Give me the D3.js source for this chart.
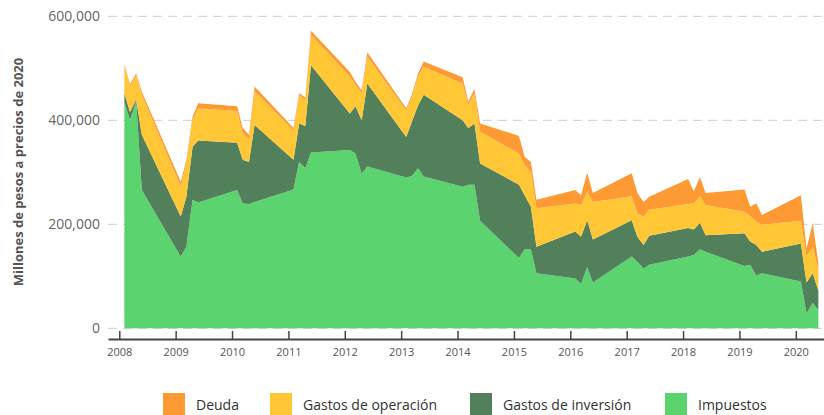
<!DOCTYPE html>
<html>
<head>
<meta charset="utf-8">
<script src="https://cdn.jsdelivr.net/npm/d3@7/dist/d3.min.js"></script>
<style>
	body { margin: 0; background: #fff; }
	text { font-family: "Open Sans", sans-serif; }
</style>
</head>
<body>
<div class="container"></div>
<script>
// fechas como año decimal (cuatro registros por año)
var fechas = [
	2008.09, 2008.19, 2008.30, 2008.40,
	2009.09, 2009.19, 2009.30, 2009.40,
	2010.09, 2010.19, 2010.30, 2010.40,
	2011.09, 2011.19, 2011.30, 2011.40,
	2012.09, 2012.19, 2012.30, 2012.40,
	2013.09, 2013.19, 2013.30, 2013.40,
	2014.09, 2014.19, 2014.30, 2014.40,
	2015.09, 2015.19, 2015.30, 2015.40,
	2016.09, 2016.19, 2016.30, 2016.40,
	2017.09, 2017.19, 2017.30, 2017.40,
	2018.09, 2018.19, 2018.30, 2018.40,
	2019.09, 2019.19, 2019.30, 2019.40,
	2020.09, 2020.19, 2020.30, 2020.40
];

// millones de pesos (en miles)
var impuestos = [
	435, 400, 436, 266,
	138, 157, 247, 242,
	266, 240, 239, 243,
	267, 320, 308, 338,
	343, 336, 297, 311,
	290, 293, 308, 292,
	272, 276, 276, 207,
	135, 152, 152, 106,
	96, 85, 118, 88,
	138, 128, 115, 122,
	138, 141, 152, 147,
	120, 122, 101, 106,
	90, 29, 49, 35
];
var inversion = [
	17, 16, 4, 106,
	77, 96, 102, 119,
	91, 84, 81, 148,
	57, 74, 81, 168,
	70, 91, 103, 160,
	78, 104, 121, 157,
	128, 109, 118, 110,
	141, 104, 82, 51,
	90, 91, 90, 83,
	70, 48, 45, 56,
	55, 49, 51, 32,
	63, 45, 59, 41,
	73, 59, 57, 37
];
var operacion = [
	52, 51, 46, 77,
	57, 65, 51, 62,
	61, 51, 44, 65,
	57, 54, 50, 58,
	71, 41, 52, 51,
	51, 47, 55, 54,
	71, 44, 58, 61,
	60, 58, 67, 74,
	54, 61, 55, 72,
	46, 45, 55, 50,
	46, 50, 51, 58,
	41, 49, 45, 52,
	44, 50, 51, 40
];
var deuda = [
	4, 3, 4, 6,
	10, 6, 7, 10,
	9, 10, 8, 9,
	4, 4, 5, 8,
	9, 6, 6, 9,
	4, 5, 6, 10,
	12, 7, 8, 16,
	34, 16, 19, 16,
	26, 19, 36, 17,
	44, 39, 28, 25,
	48, 23, 37, 23,
	43, 18, 35, 19,
	49, 16, 45, 13
];

var series = ["Impuestos", "Gastos de inversión", "Gastos de operación", "Deuda"];
var colores = ["#5bd36f", "#52805a", "#ffc636", "#fd9a33"];
var leyenda = ["Deuda", "Gastos de operación", "Gastos de inversión", "Impuestos"];
var yTicks = [0, 200000, 400000, 600000];
var xTicks = [2008, 2009, 2010, 2011, 2012, 2013, 2014, 2015, 2016, 2017, 2018, 2019, 2020];

const WIDTH = 824;
const HEIGHT = 415;

var filas = fechas.map(function(f, i){
	return {
		fecha: f,
		"Impuestos": impuestos[i] * 1000,
		"Gastos de inversión": inversion[i] * 1000,
		"Gastos de operación": operacion[i] * 1000,
		"Deuda": deuda[i] * 1000
	};
});

var svg = d3.select(".container").append('svg')
	.attr('width', WIDTH)
	.attr('height', HEIGHT);

var xScale = d3.scaleLinear()
	.domain([2007.8, 2020.5])
	.range([108, 824]);

var yScale = d3.scaleLinear()
	.domain([0, 600000])
	.range([328.3, 16.3]);

// rejilla
svg.append('g')
	.selectAll('line')
	.data(yTicks)
	.join('line')
	.attr('x1', 108)
	.attr('x2', 824)
	.attr('y1', function(d){ return yScale(d); })
	.attr('y2', function(d){ return yScale(d); })
	.attr('stroke', '#cccccc')
	.attr('stroke-width', 1)
	.attr('stroke-dasharray', '9,6');

var yAxis = d3.axisLeft(yScale)
	.tickValues(yTicks)
	.tickSize(0)
	.tickPadding(0)
	.tickFormat(d3.format(','));

var gy = svg.append('g')
	.attr('transform', 'translate(100,0)')
	.call(yAxis);
gy.select('.domain').remove();
gy.selectAll('text')
	.attr('fill', '#666')
	.style('font-size', '14px');

var stack = d3.stack().keys(series);
var capas = stack(filas);

var area = d3.area()
	.x(function(d){ return xScale(d.data.fecha); })
	.y0(function(d){ return yScale(d[0]); })
	.y1(function(d){ return yScale(d[1]); });

svg.append('g')
	.selectAll('path')
	.data(capas)
	.join('path')
	.attr('d', area)
	.attr('fill', function(d, i){ return colores[i]; });

var xAxis = d3.axisBottom(xScale)
	.tickValues(xTicks)
	.tickSizeInner(-8)
	.tickSizeOuter(0)
	.tickPadding(5)
	.tickFormat(d3.format('d'));

var gx = svg.append('g')
	.attr('transform', 'translate(0,339)')
	.call(xAxis);
gx.select('.domain')
	.attr('stroke', '#444')
	.attr('stroke-width', 2);
gx.selectAll('.tick line')
	.attr('stroke', '#444')
	.attr('stroke-width', 1.5);
gx.selectAll('text')
	.attr('fill', '#555')
	.attr('dy', '1.05em')
	.style('font-size', '11px');

svg.append('text')
	.attr('transform', 'translate(23,172) rotate(-90)')
	.attr('text-anchor', 'middle')
	.attr('fill', '#555')
	.style('font-size', '13px')
	.style('font-weight', 'bold')
	.text('Millones de pesos a precios de 2020');

// leyenda
var posLeyenda = [163, 270, 470, 665];
var gl = svg.append('g').selectAll('g')
	.data(leyenda)
	.join('g')
	.attr('transform', function(d, i){ return 'translate(' + posLeyenda[i] + ',393)'; });

gl.append('rect')
	.attr('width', 22)
	.attr('height', 22)
	.attr('fill', function(d){ return colores[series.indexOf(d)]; });

gl.append('text')
	.attr('x', 33)
	.attr('y', 17)
	.attr('fill', '#333')
	.style('font-size', '14px')
	.text(function(d){ return d; });
</script>
</body>
</html>
